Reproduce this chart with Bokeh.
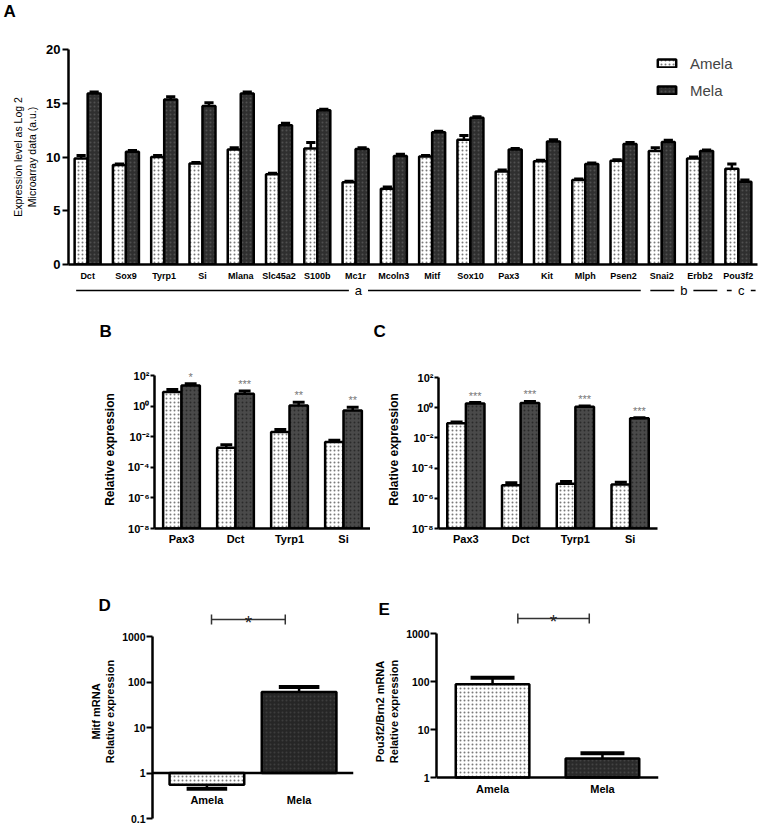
import numpy as np
from bokeh.plotting import figure
from bokeh.models import (FactorRange, Range1d, ColumnDataSource, Legend, LegendItem,
                          Label, Span, FixedTicker)
from bokeh.transform import dodge
from bokeh.layouts import column, row
from bokeh.core.properties import value
from bokeh.embed import file_html
from bokeh.resources import INLINE

FONT = "Liberation Sans"

# ---------------- data: panel A (microarray, log2) ----------------
genes_a = ["Dct", "Sox9", "Tyrp1", "Si", "Mlana", "Slc45a2", "S100b", "Mc1r", "Mcoln3",
           "Mitf", "Sox10", "Pax3", "Kit", "Mlph", "Psen2", "Snai2", "Erbb2", "Pou3f2"]
amela_a = [9.85, 9.25, 10.0, 9.4, 10.7, 8.4, 10.8, 7.65, 7.05, 10.05, 11.6, 8.65, 9.6, 7.85, 9.65, 10.55, 9.85, 8.9]
amela_a_err = [0.3, 0.1, 0.15, 0.1, 0.15, 0.1, 0.55, 0.1, 0.15, 0.1, 0.4, 0.15, 0.1, 0.1, 0.1, 0.3, 0.15, 0.45]
mela_a = [15.9, 10.5, 15.35, 14.75, 15.9, 12.95, 14.35, 10.75, 10.1, 12.3, 13.65, 10.7, 11.45, 9.35, 11.2, 11.4, 10.55, 7.7]
mela_a_err = [0.15, 0.1, 0.25, 0.3, 0.15, 0.2, 0.1, 0.1, 0.15, 0.1, 0.1, 0.1, 0.15, 0.1, 0.15, 0.15, 0.1, 0.15]
a_yticks = [0, 5, 10, 15, 20]
series_names = ["Amela", "Mela"]
bracket_labels = ["a", "b", "c"]
bracket_first = ["Dct", "Snai2", "Pou3f2"]
bracket_last = ["Psen2", "Erbb2", "Pou3f2"]

# ---------------- data: panels B and C (qPCR, log) ----------------
genes_q = ["Pax3", "Dct", "Tyrp1", "Si"]
amela_b = [8.2, 0.0019, 0.020, 0.0045]
amela_b_hi = [12.2, 0.0030, 0.030, 0.0058]
mela_b = [22.0, 6.3, 1.1, 0.52]
mela_b_hi = [29.0, 9.6, 1.8, 0.85]
stars_b = ["*", "***", "**", "**"]
amela_c = [0.093, 7.2e-6, 9.3e-6, 8.2e-6]
amela_c_hi = [0.115, 1.07e-5, 1.3e-5, 1.17e-5]
mela_c = [1.93, 2.05, 1.16, 0.20]
mela_c_hi = [2.2, 2.6, 1.3, 0.22]
stars_c = ["***", "***", "***", "***"]
bc_exponents = [-8, -6, -4, -2, 0, 2]

# ---------------- data: panels D and E ----------------
groups_de = ["Amela", "Mela"]
d_vals = [0.55, 60.0]
d_err = [0.45, 78.0]
d_ticks = [0.1, 1, 10, 100, 1000]
e_vals = [88.0, 2.5]
e_err = [120.0, 3.2]
e_ticks = [1, 10, 100, 1000]
sig_de = "*"

SUP = str.maketrans("-0123456789", "⁻⁰¹²³⁴⁵⁶⁷⁸⁹")

AM = dict(fill_color="white", line_color="black", line_width=2.5,
          hatch_pattern="dot", hatch_color="#7a7a7a", hatch_scale=4, hatch_weight=1)


def me_style(fill, dots):
    return dict(fill_color=fill, line_color="black", line_width=2.5,
                hatch_pattern="dot", hatch_color=dots, hatch_scale=4, hatch_weight=1)


def base_fig(**kw):
    p = figure(output_backend="svg", toolbar_location=None, **kw)
    p.grid.visible = False
    p.outline_line_color = None
    p.background_fill_color = "white"
    p.border_fill_color = "white"
    for ax in p.axis:
        ax.axis_line_width = 2.5
        ax.axis_line_color = "black"
        ax.major_tick_line_width = 2
        ax.major_tick_line_color = "black"
        ax.major_tick_in = 0
        ax.minor_tick_line_color = None
        ax.major_label_text_font = FONT
        ax.major_label_text_font_style = "bold"
        ax.major_label_text_color = "black"
        ax.axis_label_text_font = FONT
        ax.axis_label_text_font_style = "bold"
        ax.axis_label_text_color = "black"
    return p


def letter(p, txt, x, y, size="17px"):
    # panel letter placed in the plot's top side panel (x from frame left, y up from frame top)
    p.add_layout(Label(x=x, y=y, x_units="screen", y_units="screen", text=txt,
                       text_font=FONT, text_font_style="bold", text_font_size=size,
                       text_baseline="middle", text_align="left", text_color="black"),
                 "above")


def cat_xaxis(p, size):
    p.xaxis.major_tick_out = 0
    p.xaxis.major_tick_line_color = None
    p.xaxis.major_label_text_font_size = size


# ================= Panel A =================
pA = base_fig(width=760, height=284, x_range=FactorRange(factors=genes_a),
              y_range=Range1d(0, 20), min_border_left=68, min_border_right=3,
              min_border_top=49, min_border_bottom=20)
srcA = ColumnDataSource(dict(
    gene=genes_a, amela=amela_a, mela=mela_a,
    amela_hi=[v + e for v, e in zip(amela_a, amela_a_err)],
    mela_hi=[v + e for v, e in zip(mela_a, mela_a_err)]))
rA1 = pA.vbar(x=dodge("gene", -0.17, range=pA.x_range), top="amela", bottom=0, width=0.34,
              source=srcA, **AM)
rA2 = pA.vbar(x=dodge("gene", 0.17, range=pA.x_range), top="mela", bottom=0, width=0.34,
              source=srcA, **me_style("#2f2f2f", "#505050"))
for off, col in [(-0.17, "amela"), (0.17, "mela")]:
    pA.segment(x0=dodge("gene", off, range=pA.x_range), y0=col,
               x1=dodge("gene", off, range=pA.x_range), y1=col + "_hi",
               source=srcA, line_color="black", line_width=2.5)
    pA.segment(x0=dodge("gene", off - 0.12, range=pA.x_range), y0=col + "_hi",
               x1=dodge("gene", off + 0.12, range=pA.x_range), y1=col + "_hi",
               source=srcA, line_color="black", line_width=3)
pA.yaxis.ticker = FixedTicker(ticks=a_yticks)
pA.yaxis.major_tick_out = 6
pA.yaxis.major_label_standoff = 2
pA.yaxis.major_label_text_font_size = "13px"
pA.yaxis.axis_label = "Expression level as Log 2\nMicroarray data (a.u.)"
pA.yaxis.axis_label_text_font_style = "normal"
pA.yaxis.axis_label_text_font_size = "10.5px"
pA.yaxis.axis_label_standoff = 5
cat_xaxis(pA, "9px")
pA.xaxis.major_label_standoff = 6
legA = Legend(items=[LegendItem(label=series_names[0], renderers=[rA1]),
                     LegendItem(label=series_names[1], renderers=[rA2])],
              location=(587, 164), orientation="vertical", glyph_width=23, glyph_height=10,
              label_height=20, spacing=7, padding=0, margin=0, border_line_color=None,
              background_fill_alpha=0, label_text_font=FONT, label_text_font_size="15px",
              label_standoff=12)
pA.add_layout(legA)
letter(pA, "A", -65, 38)

# bracket row under panel A
pAb = base_fig(width=760, height=16, x_range=pA.x_range, y_range=Range1d(0, 16),
               x_axis_location=None, y_axis_location=None, min_border_left=68,
               min_border_right=3, min_border_top=0, min_border_bottom=0)
gidx = {g: i for i, g in enumerate(genes_a)}
bx0, bx1, bmid = [], [], []
for lab, f, l in zip(bracket_labels, bracket_first, bracket_last):
    s = gidx[f] + 0.2
    e = gidx[l] + 0.95
    m = (s + e) / 2
    bmid.append(m)
    bx0 += [s, m + 0.25]
    bx1 += [m - 0.25, e]
pAb.segment(x0=bx0, x1=bx1, y0=[10] * len(bx0), y1=[10] * len(bx0),
            line_color="black", line_width=1.5)
pAb.text(x=bmid, y=[10] * len(bmid), text=bracket_labels, text_font=value(FONT),
         text_font_size="13px", text_align="center", text_baseline="middle", text_color="black")


# ================= Panels B and C =================
ROW2_H, ROW2_TOP, ROW2_BOT = 274, 70, 46


def qpcr_panel(width, left, right, axis_top_gap, am, am_hi, me, me_hi, stars, let, me_fill):
    decade = (ROW2_H - ROW2_TOP - ROW2_BOT - axis_top_gap) / 10.0
    y_end = 10 ** (2 + axis_top_gap / decade)
    p = base_fig(width=width, height=ROW2_H, x_range=FactorRange(factors=genes_q),
                 y_range=Range1d(1e-8, y_end), y_axis_type="log",
                 min_border_left=left, min_border_right=right,
                 min_border_top=ROW2_TOP, min_border_bottom=ROW2_BOT)
    src = ColumnDataSource(dict(gene=genes_q, am=am, am_hi=am_hi, me=me, me_hi=me_hi, st=stars))
    p.vbar(x=dodge("gene", -0.17, range=p.x_range), top="am", bottom=1e-8, width=0.34,
           source=src, **AM)
    p.vbar(x=dodge("gene", 0.17, range=p.x_range), top="me", bottom=1e-8, width=0.34,
           source=src, **me_style(me_fill, "#2a2a2a"))
    for off, col in [(-0.17, "am"), (0.17, "me")]:
        p.segment(x0=dodge("gene", off, range=p.x_range), y0=col,
                  x1=dodge("gene", off, range=p.x_range), y1=col + "_hi",
                  source=src, line_color="black", line_width=2.5)
        p.segment(x0=dodge("gene", off - 0.11, range=p.x_range), y0=col + "_hi",
                  x1=dodge("gene", off + 0.11, range=p.x_range), y1=col + "_hi",
                  source=src, line_color="black", line_width=3)
    p.text(x=dodge("gene", 0.17, range=p.x_range), y="me_hi", text="st", source=src,
           text_font=value(FONT), text_font_size="11px", text_color="#777777",
           text_align="center", text_baseline="bottom", y_offset=-1)
    ticks = [10.0 ** k for k in bc_exponents]
    p.yaxis.ticker = FixedTicker(ticks=ticks)
    p.yaxis.major_label_overrides = {t: "10" + str(k).translate(SUP)
                                     for t, k in zip(ticks, bc_exponents)}
    p.yaxis.bounds = (1e-8, 1e2)
    p.yaxis.major_tick_out = 4
    p.yaxis.major_label_standoff = 1
    p.yaxis.major_label_text_font_size = "11px"
    p.yaxis.axis_label = "Relative expression"
    p.yaxis.axis_label_text_font_size = "12px"
    p.yaxis.axis_label_standoff = 8
    cat_xaxis(p, "11px")
    p.xaxis.major_label_standoff = 4
    letter(p, let[0], let[1], let[2])
    return p


pB = qpcr_panel(370, 154, 0, 5, amela_b, amela_b_hi, mela_b, mela_b_hi, stars_b,
                ("B", -55, 39), "#4a4a4a")
pC = qpcr_panel(390, 68, 103, 7, amela_c, amela_c_hi, mela_c, mela_c_hi, stars_c,
                ("C", -65, 39), "#4a4a4a")

# ================= Panels D and E =================
ROW3_H, ROW3_TOP = 252, 22
FRAME3 = ROW3_H - ROW3_TOP


def sig_bracket(p, y_sig, dec, a_off, b_off):
    f = 10 ** (5.0 / dec)
    mid = (a_off + 1 + b_off) / 2
    src = ColumnDataSource(dict(g=[groups_de[0]], h=[groups_de[1]], s=[sig_de],
                                y=[y_sig], ylo=[y_sig / f], yhi=[y_sig * f]))
    p.segment(x0=dodge("g", a_off, range=p.x_range), x1=dodge("h", b_off, range=p.x_range),
              y0="y", y1="y", source=src, line_color="#333333", line_width=1.5)
    for col, off in [("g", a_off), ("h", b_off)]:
        p.segment(x0=dodge(col, off, range=p.x_range), x1=dodge(col, off, range=p.x_range),
                  y0="ylo", y1="yhi", source=src, line_color="#333333", line_width=1.5)
    p.text(x=dodge("g", mid, range=p.x_range), y="y", text="s", source=src,
           text_font=value(FONT), text_font_size="19px", text_align="center",
           text_baseline="alphabetic", y_offset=3, text_color="#222222")


def mrna_panel(width, left, right, pad, dec, top_gap, vals, errs, ticks, bar_w, cap_w,
               label_off, title, let, me_fill, me_dots, sig_gap, sig_offs):
    # top_gap: px between frame top and top tick; dec: px per decade
    top_log = np.log10(ticks[-1]) + top_gap / dec
    bot_log = top_log - FRAME3 / dec
    p = base_fig(width=width, height=ROW3_H,
                 x_range=FactorRange(factors=groups_de, range_padding=pad,
                                     range_padding_units="absolute"),
                 y_range=Range1d(10 ** bot_log, 10 ** top_log), y_axis_type="log",
                 x_axis_location=None, min_border_left=left, min_border_right=right,
                 min_border_top=ROW3_TOP, min_border_bottom=0)
    src = ColumnDataSource(dict(g=groups_de, v=vals, e=errs))
    p.vbar(x=[groups_de[0]], top=[vals[0]], bottom=1, width=bar_w, **AM)
    p.vbar(x=[groups_de[1]], top=[vals[1]], bottom=1, width=bar_w, **me_style(me_fill, me_dots))
    p.segment(x0="g", y0="v", x1="g", y1="e", source=src, line_color="black", line_width=2.5)
    p.segment(x0=dodge("g", -cap_w, range=p.x_range), y0="e",
              x1=dodge("g", cap_w, range=p.x_range), y1="e", source=src,
              line_color="black", line_width=4)
    p.add_layout(Span(location=1, dimension="width", line_color="black", line_width=2.5))
    p.text(x=groups_de, y=[1, 1], text=groups_de, text_font=value(FONT), text_font_style="bold",
           text_font_size="11px", text_align="center", text_baseline="middle",
           y_offset=label_off, text_color="black")
    p.yaxis.ticker = FixedTicker(ticks=ticks)
    p.yaxis.major_label_overrides = {t: str(t) for t in ticks}
    p.yaxis.bounds = (ticks[0], ticks[-1])
    p.yaxis.major_tick_out = 6
    p.yaxis.major_label_standoff = 1
    p.yaxis.major_label_text_font_size = "10.5px"
    p.yaxis.axis_label = title
    p.yaxis.axis_label_text_font_size = "11px"
    p.yaxis.axis_label_standoff = 3
    letter(p, let[0], let[1], let[2])
    sig_bracket(p, 10 ** (np.log10(ticks[-1]) + sig_gap / dec), dec, sig_offs[0], sig_offs[1])
    return p


pD = mrna_panel(370, 152, 17, 0.09, 45.5, 40, d_vals, d_err, d_ticks, 0.81, 0.22, 27,
                "Mitf mRNA\nRelative expression", ("D", -54, -9), "#262626", "#3d3d3d",
                17, (0.05, -0.15))
pE = mrna_panel(390, 63, 102, 0.01, 48.0, 37, e_vals, e_err, e_ticks, 0.67, 0.2, 11,
                "Pou3f2/Brn2 mRNA\nRelative expression", ("E", -58, -13), "#2a2a2a", "#444444",
                15, (0.23, -0.12))

layout = column(pA, pAb, row(pB, pC), row(pD, pE))
open("out.html", "w").write(file_html(layout, INLINE))
